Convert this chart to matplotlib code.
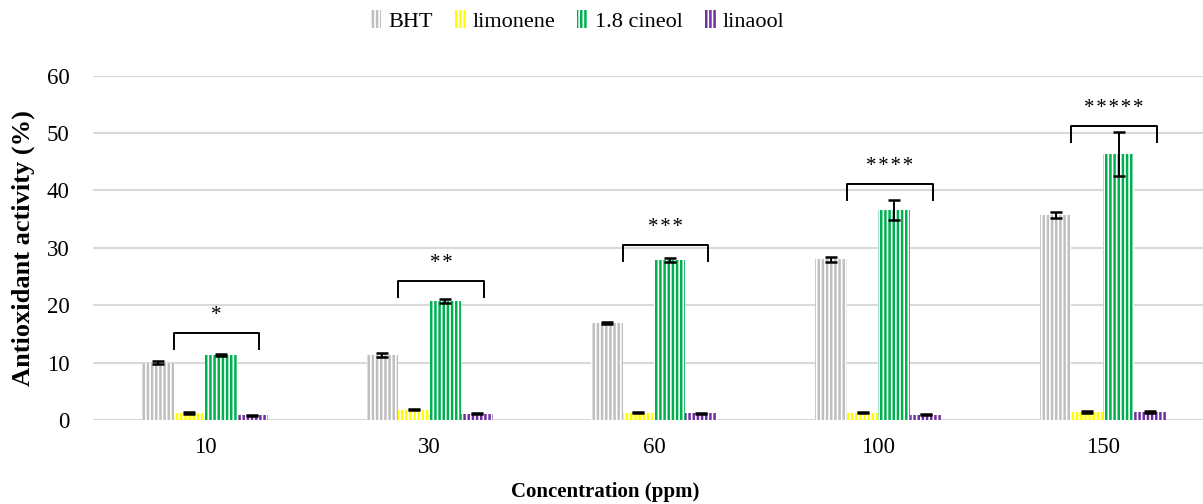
import numpy as np
import matplotlib.pyplot as plt
from matplotlib.patches import Patch

plt.rcParams['font.family'] = ['Liberation Serif', 'DejaVu Serif']
plt.rcParams['hatch.linewidth'] = 1.8

# datos
concentraciones = ['10', '30', '60', '100', '150']
bht = [10.0, 11.3, 16.9, 28.0, 35.7]
bht_err = [0.2, 0.3, 0.2, 0.4, 0.5]
limoneno = [1.2, 1.8, 1.3, 1.3, 1.4]
limoneno_err = [0.15, 0.1, 0.1, 0.1, 0.1]
cineol = [11.3, 20.7, 27.9, 36.6, 46.4]
cineol_err = [0.2, 0.3, 0.4, 1.8, 3.8]
linalool = [0.8, 1.1, 1.2, 0.9, 1.4]
linalool_err = [0.15, 0.1, 0.1, 0.1, 0.1]

estrellas = ['*', '**', '***', '****', '*****']
corchete_y = [15.2, 24.2, 30.5, 41.1, 51.2]

series = [
    ('BHT', bht, bht_err, '#BFBFBF'),
    ('limonene', limoneno, limoneno_err, '#FFFF00'),
    ('1.8 cineol', cineol, cineol_err, '#00B050'),
    ('linaool', linalool, linalool_err, '#7030A0'),
]

fig = plt.figure(figsize=(12.03, 5.04), dpi=100)
ax = fig.add_axes([93 / 1203, 1 - 420 / 504, (1215 - 93) / 1203, (420 - 75.7) / 504])

x = np.arange(len(concentraciones))
w = 31.5 / 224.5
for i, (nombre, vals, errs, color) in enumerate(series):
    pos = x + (i - 1.5) * w
    ax.bar(pos, vals, width=w, facecolor='white', edgecolor=color,
           hatch='||||', linewidth=0, zorder=2)
    ax.errorbar(pos, vals, yerr=errs, fmt='none', ecolor='black',
                elinewidth=1.4, capsize=4.5, capthick=1.8, zorder=3)

# corchetes con asteriscos
for xi, yc, txt in zip(x, corchete_y, estrellas):
    x0 = xi - w
    x1 = xi + 1.72 * w
    ax.plot([x0, x0, x1, x1], [yc - 2.8, yc, yc, yc - 2.8], color='black',
            lw=1.4, zorder=4, solid_joinstyle='round')
    ax.text((x0 + x1) / 2, yc + 3.0, '\u200a'.join(txt), ha='center', va='center',
            fontsize=15)

ax.set_xlim(-0.5, 4.5)
ax.set_ylim(0, 60)
ax.set_yticks(range(0, 61, 10))
ax.set_xticks(x)
ax.set_xticklabels(concentraciones)
ax.tick_params(length=0, labelsize=16.5, pad=12)
ax.tick_params(axis='y', pad=17)
ax.grid(axis='y', color='#D9D9D9', linewidth=1.5, zorder=0)
ax.set_axisbelow(True)
for s in ax.spines.values():
    s.set_visible(False)

ax.set_ylabel('Antioxidant activity (%)', fontsize=19, fontweight='bold', labelpad=8)
fig.text(605 / 1203, 1 - 492 / 504, 'Concentration (ppm)', ha='center', va='center',
         fontsize=15, fontweight='bold')

handles = [Patch(facecolor='white', edgecolor=c, hatch='||||', linewidth=0, label=n)
           for n, _, _, c in series]
fig.legend(handles=handles, loc='upper center', bbox_to_anchor=(0.48, 1.02), ncol=4,
           frameon=False, fontsize=16, handlelength=0.5, handleheight=0.9,
           handletextpad=0.3, columnspacing=1.0)

fig.savefig('out.png', dpi=100)
